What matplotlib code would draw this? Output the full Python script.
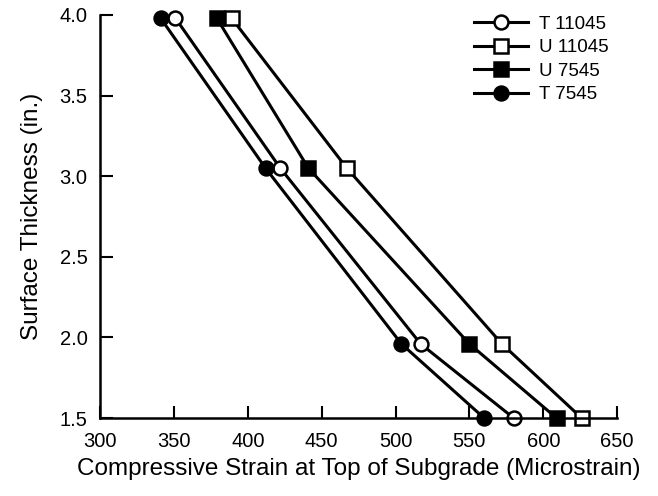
import matplotlib.pyplot as plt

plt.rcParams['font.family'] = ['Liberation Sans', 'DejaVu Sans']

thickness = [3.98, 3.05, 1.96, 1.5]
t11045 = [351, 422, 517, 580]
u11045 = [389, 467, 572, 626]
u7545 = [379, 441, 550, 609]
t7545 = [341, 412, 504, 560]

fig = plt.figure(figsize=(6.58, 4.96), dpi=100)
ax = fig.add_axes([0.152, 0.157, 0.786, 0.813])

style = dict(color='black', lw=2.2, ms=10, mew=1.8, clip_on=False)
ax.plot(t11045, thickness, 'o-', mfc='white', label='T 11045', **style)
ax.plot(u11045, thickness, 's-', mfc='white', label='U 11045', **style)
ax.plot(u7545, thickness, 's-', mfc='black', label='U 7545', **style)
ax.plot(t7545, thickness, 'o-', mfc='black', label='T 7545', **style)

ax.set_xlim(300, 650)
ax.set_ylim(1.5, 4.0)
ax.set_xticks(range(300, 651, 50))
ax.set_yticks([1.5, 2.0, 2.5, 3.0, 3.5, 4.0])
ax.set_yticklabels(['1.5', '2.0', '2.5', '3.0', '3.5', '4.0'])
ax.tick_params(direction='in', length=9, width=1.5, labelsize=14.5)
ax.tick_params(axis='x', pad=10)
ax.tick_params(axis='y', pad=9)
for s in ['top', 'right']:
    ax.spines[s].set_visible(False)
for s in ['left', 'bottom']:
    ax.spines[s].set_linewidth(1.8)

ax.set_xlabel('Compressive Strain at Top of Subgrade (Microstrain)', fontsize=17.5, labelpad=5)
ax.set_ylabel('Surface Thickness (in.)', fontsize=17.5, labelpad=12)

ax.legend(loc='upper right', bbox_to_anchor=(1.017, 1.04), frameon=False, fontsize=13.5,
          handlelength=2.9, handletextpad=0.6, labelspacing=0.34)

fig.savefig('out.png', dpi=100)
